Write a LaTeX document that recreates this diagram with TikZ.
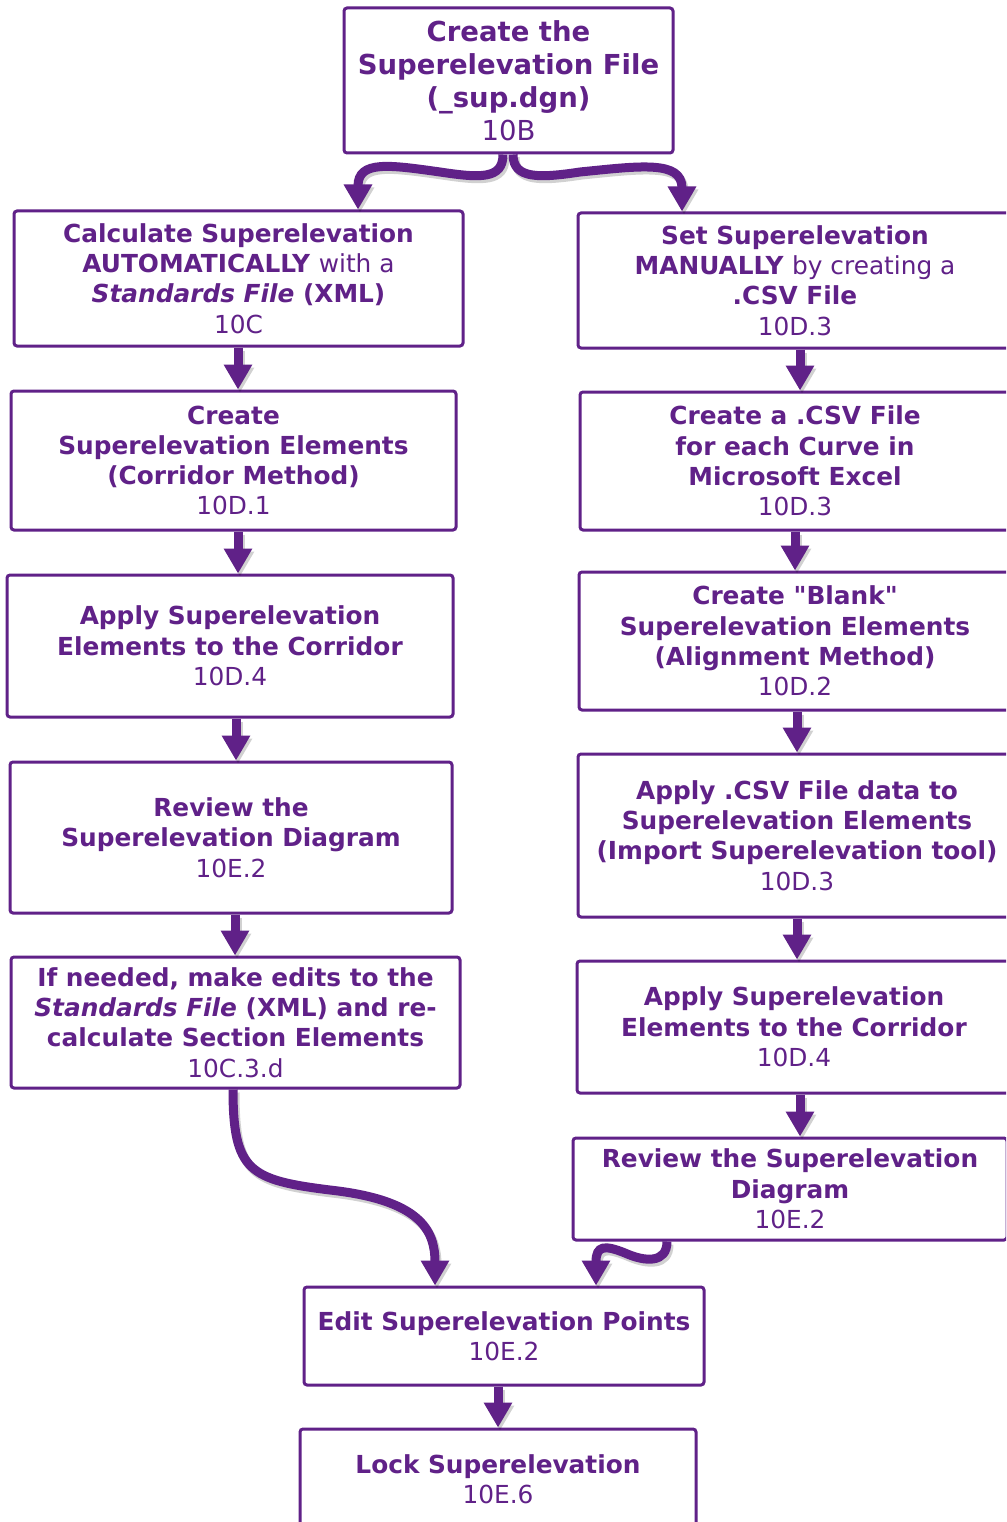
\documentclass[tikz,border=0pt]{standalone}
\usepackage{fontspec}
\setmainfont{DejaVu Sans}
\usetikzlibrary{arrows.meta}
\definecolor{plum}{RGB}{96,33,136}
\newcommand\secno[1]{{\mdseries #1}}
\tikzset{
  box/.style={draw=plum, line width=3pt, rounded corners=3pt, fill=white,
    align=center, text=plum, inner sep=0pt,
    font=\fontsize{24.8}{30.3}\selectfont\bfseries},
  bigbox/.style={box, font=\fontsize{27.5}{33}\selectfont\bfseries},
  flow/.style={draw=plum, line width=9pt,
    -{Triangle[width=27pt,length=25pt]},
    preaction={draw=black, opacity=0.18, line width=9pt,
      transform canvas={shift={(2pt,-3pt)}}}},
}
\begin{document}
\begin{tikzpicture}[x=1pt,y=1pt]
\useasboundingbox (0,0) rectangle (1006,-1522);
\clip (0,0) rectangle (1006,-1522);
\fill[white] (0,0) rectangle (1006,-1522);

% boxes: centre, width, height
\node[bigbox, minimum width=329, minimum height=145] (top) at (508.5,-80.5)
  {Create the\\Superelevation File\\(\_sup.dgn)\\\secno{10B}};
\node[box, minimum width=449, minimum height=135] (l1) at (238.5,-278.5)
  {Calculate Superelevation\\AUTOMATICALLY \mdseries with a\\\itshape Standards File \upshape (XML)\\\secno{10C}};
\node[box, minimum width=434, minimum height=135] (r1) at (795,-280.5)
  {Set Superelevation\\MANUALLY \mdseries by creating a\\.CSV File\\\secno{10D.3}};
\node[box, minimum width=445, minimum height=139] (l2) at (233.5,-460.5)
  {Create\\Superelevation Elements\\(Corridor Method)\\\secno{10D.1}};
\node[box, minimum width=430, minimum height=138] (r2) at (795,-461)
  {Create a .CSV File\\for each Curve in\\Microsoft Excel\\\secno{10D.3}};
\node[box, minimum width=446, minimum height=142] (l3) at (230,-646)
  {Apply Superelevation\\Elements to the Corridor\\\secno{10D.4}};
\node[box, minimum width=432, minimum height=138] (r3) at (795,-641)
  {Create \textquotedbl Blank\textquotedbl\\Superelevation Elements\\(Alignment Method)\\\secno{10D.2}};
\node[box, minimum width=442, minimum height=151] (l4) at (231,-837.5)
  {Review the\\Superelevation Diagram\\\secno{10E.2}};
\node[box, minimum width=438, minimum height=163] (r4) at (797,-835.5)
  {Apply .CSV File data to\\Superelevation Elements\\(Import Superelevation tool)\\\secno{10D.3}};
\node[box, minimum width=449, minimum height=131] (l5) at (235.5,-1022.5)
  {If needed, make edits to the\\\itshape Standards File \upshape (XML) and re-\\calculate Section Elements\\\secno{10C.3.d}};
\node[box, minimum width=434, minimum height=132] (r5) at (794,-1027)
  {Apply Superelevation\\Elements to the Corridor\\\secno{10D.4}};
\node[box, minimum width=434, minimum height=102] (r6) at (790,-1189)
  {Review the Superelevation\\Diagram\\\secno{10E.2}};
\node[box, minimum width=400, minimum height=98] (edit) at (504,-1336)
  {Edit Superelevation Points\\\secno{10E.2}};
\node[box, minimum width=396, minimum height=101] (lock) at (498,-1479.5)
  {Lock Superelevation\\\secno{10E.6}};

% straight connectors
\draw[flow] ([xshift=-0.5pt]l1.south) -- ([xshift=-0.5pt]l1.south |- l2.north);
\draw[flow] ([xshift=4.5pt]l2.south) -- ([xshift=4.5pt]l2.south |- l3.north);
\draw[flow] ([xshift=6pt]l3.south) -- ([xshift=6pt]l3.south |- l4.north);
\draw[flow] ([xshift=4pt]l4.south) -- ([xshift=4pt]l4.south |- l5.north);
\draw[flow] ([xshift=5pt]r1.south) -- ([xshift=5pt]r1.south |- r2.north);
\draw[flow] (r2.south) -- (r2.south |- r3.north);
\draw[flow] ([xshift=2pt]r3.south) -- ([xshift=2pt]r3.south |- r4.north);
\draw[flow] (r4.south) -- (r4.south |- r5.north);
\draw[flow] ([xshift=6pt]r5.south) -- ([xshift=6pt]r5.south |- r6.north);
\draw[flow] ([xshift=-6pt]edit.south) -- ([xshift=-6pt]edit.south |- lock.north);

% branching connectors from the top box
\draw[flow] ([xshift=-5.5pt]top.south)
  .. controls +(0,-25) and (480,-178) .. (440,-172)
  .. controls (390,-165) and (358,-160) .. (l1.north -| 358,0);
\draw[flow] ([xshift=4.5pt]top.south)
  .. controls +(0,-25) and (540,-178) .. (580,-172)
  .. controls (640,-166) and (682,-160) .. (r1.north -| 682,0);

% joining connectors into the edit box
\draw[flow] ([xshift=-2.5pt]l5.south)
  .. controls +(0,-82) and (250,-1180) .. (330,-1190)
  .. controls (420,-1200) and (435,-1230) .. (edit.north -| 435,0);
\draw[flow] ([xshift=-123pt]r6.south)
  .. controls +(0,-22) and (645,-1262) .. (625,-1253)
  .. controls (605,-1245) and (596,-1245) .. (edit.north -| 596,0);
\end{tikzpicture}
\end{document}
